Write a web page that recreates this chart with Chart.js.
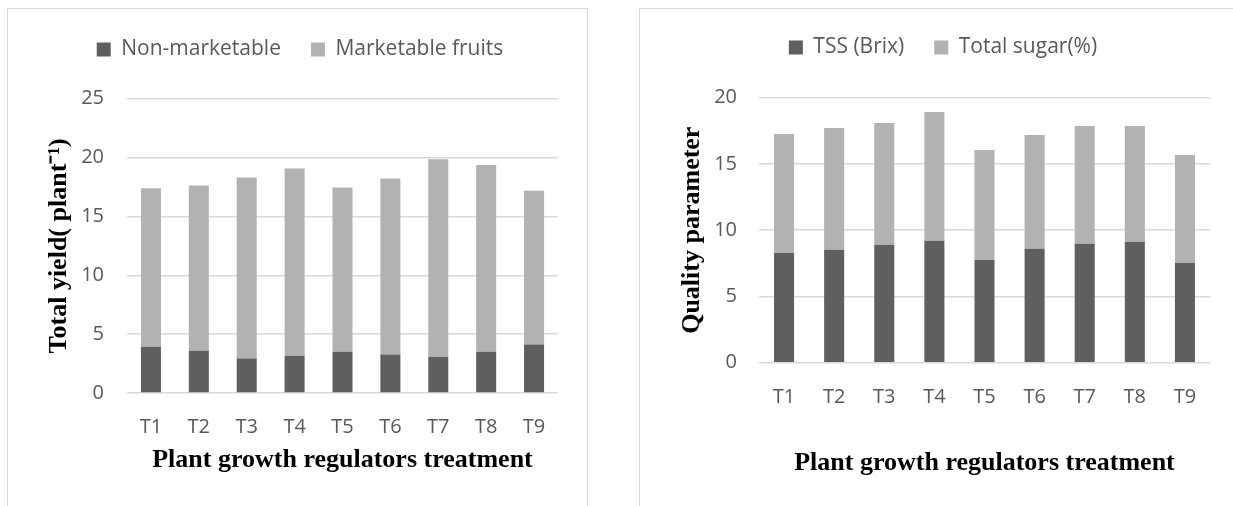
<!DOCTYPE html>
<html>
<head>
<meta charset="utf-8">
<script src="https://cdn.jsdelivr.net/npm/chart.js@4.4.1/dist/chart.umd.min.js"></script>
<style>
  html, body { margin: 0; padding: 0; background: #ffffff; width: 1233px; height: 506px; overflow: hidden; }
  .frame { position: absolute; border: 1px solid #d9d9d9; box-sizing: border-box; }
  canvas { position: absolute; }
</style>
</head>
<body>
<div class="frame" style="left:7px; top:8px; width:581px; height:560px;"></div>
<div class="frame" style="left:639px; top:8px; width:640px; height:560px;"></div>
<canvas id="c1" width="579" height="504" style="left:8px; top:2px;"></canvas>
<canvas id="c2" width="593" height="504" style="left:640px; top:2px;"></canvas>
<script>
// ---- data ----
const categories = ['T1', 'T2', 'T3', 'T4', 'T5', 'T6', 'T7', 'T8', 'T9'];
const nonMarketable = [3.93, 3.59, 2.94, 3.17, 3.51, 3.28, 3.08, 3.51, 4.13];
const marketableFruits = [13.46, 14.03, 15.36, 15.91, 13.94, 14.94, 16.77, 15.85, 13.06];
const tssBrix = [8.28, 8.53, 8.91, 9.21, 7.75, 8.60, 8.98, 9.13, 7.52];
const totalSugar = [8.98, 9.18, 9.18, 9.71, 8.30, 8.58, 8.88, 8.73, 8.15];
const yieldTicks = [0, 5, 10, 15, 20, 25];
const qualityTicks = [0, 5, 10, 15, 20];

const DARK = '#5f5f5f';
const LIGHT = '#b2b2b2';
const TICK_COLOR = '#595959';
const GRID = '#d9d9d9';

function legendTweak(h, shift) {
  return {
    id: 'legendTweak',
    beforeInit(chart) {
      const orig = chart.legend.fit;
      chart.legend.fit = function () {
        orig.call(this);
        this.height = h;
        if (this.lineWidths && this.lineWidths.length) {
          this.lineWidths = this.lineWidths.map(w => w - 2 * shift);
        }
      };
    }
  };
}

function makeChart(id, cfg) {
  return new Chart(document.getElementById(id), {
    type: 'bar',
    data: {
      labels: categories,
      datasets: [
        { label: cfg.names[0], data: cfg.s1, backgroundColor: DARK, borderWidth: 0,
          categoryPercentage: 1, barPercentage: cfg.barPct },
        { label: cfg.names[1], data: cfg.s2, backgroundColor: LIGHT, borderWidth: 0,
          categoryPercentage: 1, barPercentage: cfg.barPct }
      ]
    },
    options: {
      responsive: false,
      animation: false,
      devicePixelRatio: 1,
      layout: { padding: { top: cfg.padTop, right: cfg.padRight, bottom: 0, left: 0 } },
      plugins: {
        legend: {
          position: 'top',
          align: 'center',
          labels: {
            boxWidth: 14, boxHeight: 14, padding: 30,
            color: TICK_COLOR,
            font: { family: 'Open Sans', size: 21 }
          }
        },
        tooltip: { enabled: false }
      },
      scales: {
        x: {
          stacked: true,
          grid: { display: false, drawTicks: false },
          border: { display: false },
          ticks: { color: TICK_COLOR, font: { family: 'Open Sans', size: 20 }, padding: cfg.xTickPad, maxRotation: 0 },
          title: { display: true, text: 'Plant growth regulators treatment', color: '#000000',
                   font: { family: 'Liberation Serif', size: 26, weight: 'bold' },
                   padding: { top: 0, bottom: cfg.xTitlePad } },
          afterFit(scale) { scale.height = cfg.xHeight; }
        },
        y: {
          stacked: true,
          min: 0, max: cfg.ticks[cfg.ticks.length - 1],
          afterBuildTicks(scale) { scale.ticks = cfg.ticks.map(v => ({ value: v })); },
          grid: { color: GRID, lineWidth: 1.5, drawTicks: false },
          border: { display: false },
          ticks: { color: TICK_COLOR, font: { family: 'Open Sans', size: 20 }, padding: cfg.yTickPad },
          title: { display: true, text: cfg.yTitle, color: '#000000',
                   font: { family: 'Liberation Serif', size: 26, weight: 'bold' },
                   padding: { top: cfg.yTitlePad, bottom: 0 } },
          afterFit(scale) { scale.width = cfg.yWidth; }
        }
      }
    },
    plugins: [legendTweak(cfg.legendH, cfg.legendShift)]
  });
}

makeChart('c1', {
  names: ['Non-marketable', 'Marketable fruits'],
  s1: nonMarketable, s2: marketableFruits,
  ticks: yieldTicks,
  yTitle: 'Total yield( plant\u207B\u00B9)',
  barPct: 0.418,
  padTop: 7, padRight: 29,
  legendH: 89.7, legendShift: 17,
  xHeight: 113, xTickPad: 22, xTitlePad: 30,
  yWidth: 119, yTickPad: 23, yTitlePad: 36
});

makeChart('c2', {
  names: ['TSS (Brix)', 'Total sugar(%)'],
  s1: tssBrix, s2: totalSugar,
  ticks: qualityTicks,
  yTitle: 'Quality parameter',
  barPct: 0.40,
  padTop: 5, padRight: 23,
  legendH: 90.7, legendShift: 18,
  xHeight: 143.3, xTickPad: 23, xTitlePad: 27,
  yWidth: 119, yTickPad: 22, yTitlePad: 37
});
</script>
</body>
</html>
